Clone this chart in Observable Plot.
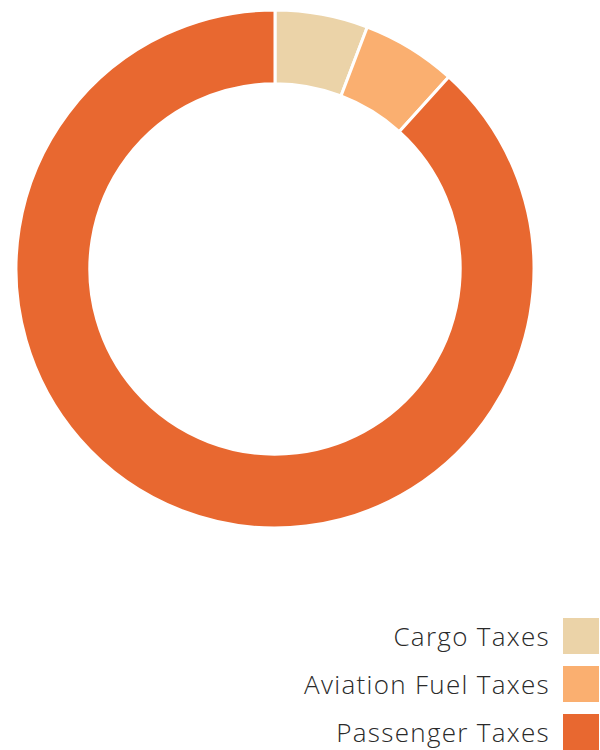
<!DOCTYPE html>
<html>
<head>
<meta charset="utf-8">
<script src="https://cdn.jsdelivr.net/npm/d3@7"></script>
<script src="https://cdn.jsdelivr.net/npm/@observablehq/plot@0.6"></script>
<style>
  html, body { margin: 0; padding: 0; background: #fff; }
  #chart { width: 600px; }
  .legend { width: 600px; padding-top: 58px; box-sizing: border-box; }
  .row { display: flex; justify-content: flex-end; align-items: center; height: 36px; margin-bottom: 12px; padding-right: 1px; }
  .row span { font-family: "Open Sans", sans-serif; font-weight: 300; font-size: 26px; letter-spacing: 1.3px; color: #2a2a2a; margin-right: 13px; line-height: 36px; }
  .sw { width: 36px; height: 36px; }
</style>
</head>
<body>
<div id="chart"></div>
<script>
const categories = ["Cargo Taxes", "Aviation Fuel Taxes", "Passenger Taxes"];
const shares = [5.8, 5.9, 88.3];
const palette = ["#ebd3a8", "#faaf70", "#e86830"];

const data = categories.map((c, i) => ({category: c, value: shares[i]}));
const color = Plot.scale({color: {type: "ordinal", domain: categories, range: palette}});

function donut(index, scales, values, dims) {
  const fw = dims.width - dims.marginLeft - dims.marginRight;
  const fh = dims.height - dims.marginTop - dims.marginBottom;
  const cx = dims.marginLeft + fw / 2;
  const cy = dims.marginTop + fh / 2;
  const outer = Math.min(fw, fh) / 2 + 1;
  const inner = outer * 0.715;
  const pie = d3.pie().sort(null).value(d => d.value);
  const arc = d3.arc().innerRadius(inner).outerRadius(outer);
  const g = d3.create("svg:g").attr("transform", `translate(${cx},${cy})`);
  g.selectAll("path")
    .data(pie(data))
    .join("path")
    .attr("d", arc)
    .attr("fill", d => color.apply(d.data.category))
    .attr("stroke", "white")
    .attr("stroke-width", 3)
    .attr("stroke-linejoin", "miter");
  return g.node();
}

const plot = Plot.plot({
  width: 600,
  height: 560,
  marginLeft: 17,
  marginRight: 67,
  marginTop: 11,
  marginBottom: 33,
  marks: [donut]
});
document.getElementById("chart").append(plot);

const legend = document.createElement("div");
legend.className = "legend";
categories.forEach((c) => {
  const row = document.createElement("div");
  row.className = "row";
  const s = document.createElement("span");
  s.textContent = c;
  const sw = document.createElement("div");
  sw.className = "sw";
  sw.style.background = color.apply(c);
  row.append(s, sw);
  legend.append(row);
});
document.getElementById("chart").append(legend);
</script>
</body>
</html>
